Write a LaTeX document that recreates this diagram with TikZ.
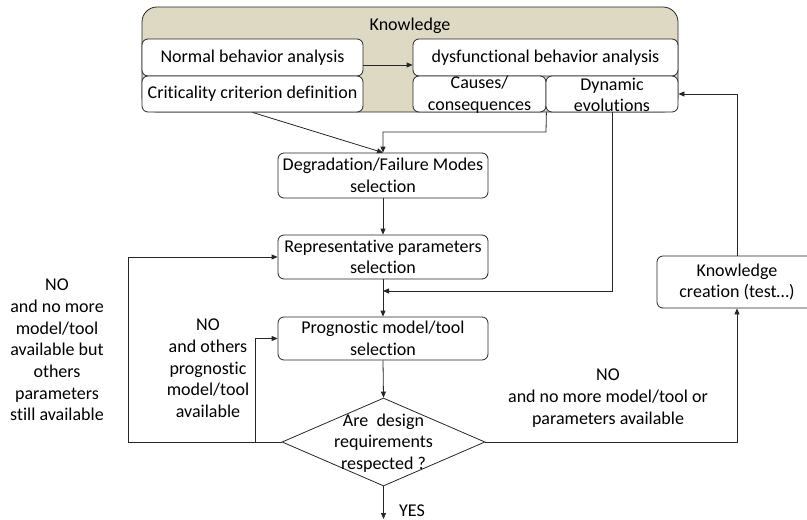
\documentclass[tikz,border=0pt]{standalone}
\usepackage{fontspec}
\setmainfont[Ligatures=NoCommon]{Carlito}
\usetikzlibrary{arrows.meta,shapes.geometric,calc}
\definecolor{tanbg}{HTML}{DDD9C3}
\definecolor{lncol}{HTML}{262626}
\tikzset{
  box/.style={draw=lncol, line width=0.8pt, fill=white, rounded corners=6pt, inner sep=0pt, align=center},
  lbl/.style={align=center, inner sep=0pt},
  arr/.style={draw=lncol, line width=0.8pt, -{Triangle[length=6pt,width=5pt]}},
  ln/.style={draw=lncol, line width=0.8pt}
}
\begin{document}
\begin{tikzpicture}[x=1pt,y=-1pt, font=\fontsize{18}{21.7}\selectfont]
\useasboundingbox (0,0) rectangle (807,520);
\clip (0,0) rectangle (807,520);
% Knowledge container
\node[box, fill=tanbg, rounded corners=15pt, minimum width=536pt, minimum height=105pt] (know) at (410,59.5) {};
\node[lbl] (knowt) at (410,26) {Knowledge};
\node[box, minimum width=221pt, minimum height=37pt] (norm) at (252.5,57.5) {Normal behavior analysis};
\node[box, minimum width=221pt, minimum height=36pt] (crit) at (252.5,94) {Criticality criterion definition};
\node[box, minimum width=265pt, minimum height=37pt] (dys) at (545.5,57.5) {dysfunctional behavior analysis};
\node[box, minimum width=133pt, minimum height=36pt] (cause) at (479.5,94) {};
\node[lbl] (causet) at (479.5,95) {Causes/\\consequences};
\node[box, minimum width=132pt, minimum height=36pt] (dyn) at (612,94) {};
\node[lbl] (dynt) at (612,95) {Dynamic\\evolutions};
% main flow
\node[box, minimum width=210pt, minimum height=45pt] (deg) at (383,175.5) {Degradation/Failure Modes\\selection};
\node[box, minimum width=210pt, minimum height=44pt] (rep) at (383,257) {Representative parameters\\selection};
\node[box, minimum width=210pt, minimum height=43pt] (prog) at (383,338.5) {Prognostic model/tool\\selection};
\node[draw=lncol, line width=0.8pt, diamond, aspect=2.3, inner sep=0pt, minimum width=203pt, minimum height=88pt] (dia) at (383.5,442) {};
\node[lbl] (diat) at (383.5,443) {Are\ \ design\\requirements\\respected ?};
\node[box, minimum width=160pt, minimum height=52pt] (kc) at (737,282) {Knowledge\\creation (test\ldots)};
% helper coordinates
\coordinate (m1) at (383,291);
\coordinate (c1) at (546,132);
\coordinate (lft) at (128,442);
\coordinate (inr) at (255,442);
\coordinate (yesend) at (383.5,519);
% connectors
\draw[arr] ([yshift=-7.5pt]norm.east) -- ([yshift=-7.5pt]dys.west);
\draw[arr] (crit.south) -- (deg.north);
\draw[arr] (cause.south east) -- (c1) -| (deg.north);
\draw[arr] (deg.south) -- (rep.north);
\draw[arr] (rep.south) -- (prog.north);
\draw[arr] (dyn.south) |- (m1);
\draw[arr] (prog.south) -- (dia.north);
\draw[arr] (dia.south) -- (yesend);
\draw[arr] (dia.east) -| (kc.south);
\draw[arr] (kc.north) |- (dyn.east);
\draw[arr] (dia.west) -- (lft) |- (rep.west);
\draw[arr] (inr) |- (prog.west);
% labels
\node[lbl] (nol) at (57,350) {NO\\and no more\\model/tool\\available but\\others\\parameters\\still available};
\node[lbl] (nom) at (208,368.5) {NO\\and others\\prognostic\\model/tool\\available};
\node[lbl] (nor) at (608,398) {NO\\and no more model/tool or\\parameters available};
\node[lbl] (yes) at (412,511) {YES};
\end{tikzpicture}
\end{document}
